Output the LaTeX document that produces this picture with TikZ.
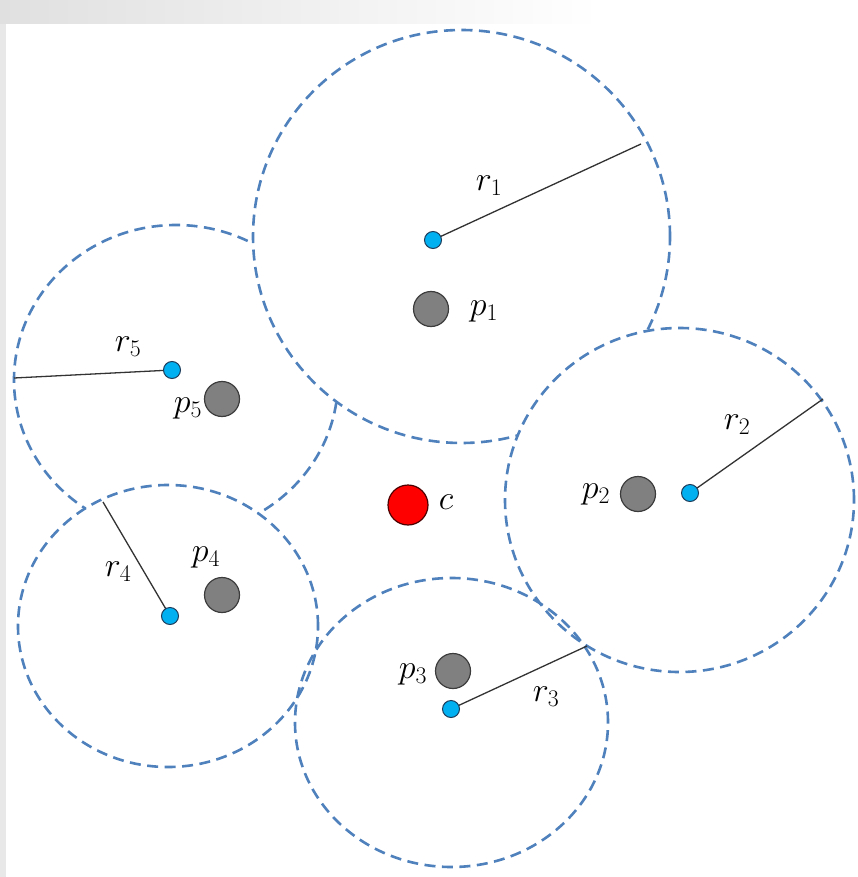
\documentclass[tikz,border=0pt]{standalone}
\usepackage{fix-cm}
\definecolor{dashblue}{RGB}{79,129,189}
\definecolor{ptgray}{RGB}{128,128,128}
\definecolor{ptgrayd}{RGB}{60,60,60}
\definecolor{ctblue}{RGB}{0,176,240}
\definecolor{ctblued}{RGB}{30,60,90}
\definecolor{bandgray}{RGB}{224,224,224}
\definecolor{stripgray}{RGB}{232,232,232}
\begin{document}
\begin{tikzpicture}[x=1pt,y=-1pt,
  region/.style={draw=dashblue, line width=2.6pt, dash pattern=on 11pt off 6.5pt},
  radline/.style={draw=black!80, line width=1.3pt},
  ptdot/.style={circle, fill=ptgray, draw=ptgrayd, line width=1.2pt, minimum size=35pt, inner sep=0pt},
  ctdot/.style={circle, fill=ctblue, draw=ctblued, line width=1pt, minimum size=17pt, inner sep=0pt},
  cdot/.style={circle, fill=red, draw=black!70!red, line width=1.2pt, minimum size=40pt, inner sep=0pt},
  lab/.style={font=\fontsize{34}{36}\selectfont, inner sep=0pt}]
\useasboundingbox (0,0) rectangle (858,877);
% background band and strip
\fill[white] (0,0) rectangle (858,877);
\shade[left color=bandgray, right color=white] (0,0) rectangle (600,24);
\fill[stripgray] (0,24) rectangle (6,877);
% regions (stacked, white filled, so that upper ones hide lower arcs)
\draw[region, fill=white] (176,380) ellipse [x radius=162pt, y radius=155pt];
\draw[region, fill=white] (168,626) ellipse [x radius=150pt, y radius=141pt];
\draw[region, fill=white] (461.5,236.5) ellipse [x radius=208.5pt, y radius=206.5pt];
\draw[region, fill=white] (679.5,500) ellipse [x radius=174.5pt, y radius=172pt];
\draw[region] (451.5,722.5) ellipse [x radius=156.5pt, y radius=144.5pt];
% centres and radius end points
\coordinate (q1) at (433,240);
\coordinate (q2) at (690,493);
\coordinate (q3) at (451,709);
\coordinate (q4) at (170,616);
\coordinate (q5) at (172,370);
\coordinate (e1) at (641,144);
\coordinate (e2) at (823,399);
\coordinate (e3) at (587,646);
\coordinate (e4) at (103,502);
\coordinate (e5) at (14,378);
\draw[radline] (q1) -- (e1);
\draw[radline] (q2) -- (e2);
\draw[radline] (q3) -- (e3);
\draw[radline] (q4) -- (e4);
\draw[radline] (q5) -- (e5);
\node[ctdot] (b1) at (q1) {};
\node[ctdot] (b2) at (q2) {};
\node[ctdot] (b3) at (q3) {};
\node[ctdot] (b4) at (q4) {};
\node[ctdot] (b5) at (q5) {};
% points
\node[ptdot] (p1) at (431,309) {};
\node[ptdot] (p2) at (638,494) {};
\node[ptdot] (p3) at (453,671) {};
\node[ptdot] (p4) at (222,595) {};
\node[ptdot] (p5) at (222,399) {};
\node[cdot] (c) at (408,505) {};
% labels
\node[lab] (lr1) at (489,186) {$r_1$};
\node[lab] (lp1) at (484,311) {$p_1$};
\node[lab] (lr5) at (128,347) {$r_5$};
\node[lab] (lp5) at (188,408) {$p_5$};
\node[lab] (lc) at (446,502) {$c$};
\node[lab] (lp2) at (596,494) {$p_2$};
\node[lab] (lr2) at (737,425) {$r_2$};
\node[lab] (lr4) at (118,572) {$r_4$};
\node[lab] (lp4) at (206,557) {$p_4$};
\node[lab] (lp3) at (413,674) {$p_3$};
\node[lab] (lr3) at (546,697) {$r_3$};
\end{tikzpicture}
\end{document}
